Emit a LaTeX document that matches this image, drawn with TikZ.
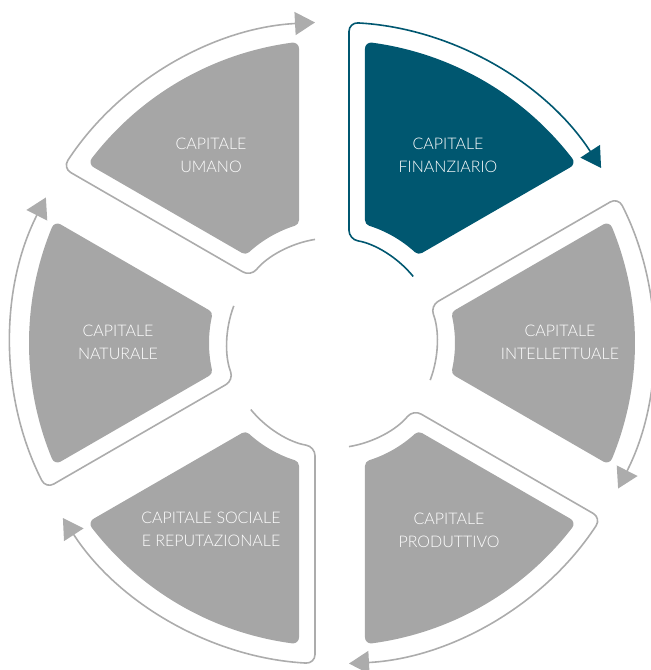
\documentclass[tikz,border=0pt]{standalone}
\usepackage{fontspec}
\setmainfont{Lato}[UprightFont=* Light]
\usetikzlibrary{arrows.meta}
\definecolor{capgray}{RGB}{166,166,166}
\definecolor{linegray}{RGB}{172,172,172}
\definecolor{capblue}{RGB}{0,87,112}
\newcommand\drawsector[2]{%
  \pgfmathsetmacro\aA{#1+30}\pgfmathsetmacro\aB{#1-30}%
  \pgfmathsetmacro\dO{asin(39/297)}\pgfmathsetmacro\dI{asin(39/129)}%
  \pgfmathsetmacro\sA{\aA-\dO}\pgfmathsetmacro\sB{\aB+\dO}%
  \pgfmathsetmacro\iA{\aA-\dI}\pgfmathsetmacro\iB{\aB+\dI}%
  \path[sectorfill=#2] (\sA:297) arc[start angle=\sA, end angle=\sB, radius=297]
    -- (\iB:129) arc[start angle=\iB, end angle=\iA, radius=129] -- cycle;
}
\newcommand\drawcycle[2]{%
  \pgfmathsetmacro\aA{#1+30}\pgfmathsetmacro\aB{#1-30}%
  \pgfmathsetmacro\dI{asin(17/105)}\pgfmathsetmacro\dO{asin(17/321)}%
  \pgfmathsetmacro\sA{\aA-\dO}\pgfmathsetmacro\sB{\aB+\dO}%
  \pgfmathsetmacro\iA{\aA-\dI}\pgfmathsetmacro\iB{\aB+\dI}%
  \draw[cycleline=#2] (\iB:105) arc[start angle=\iB, end angle=\iA, radius=105]
    -- (\sA:321) arc[start angle=\sA, end angle=\sB, radius=321];
}
\begin{document}
\begin{tikzpicture}[x=1pt,y=1pt,
  sectorfill/.style={fill=#1,draw=#1,line width=12pt,line join=round},
  cycleline/.style={draw=#1,line width=1.6pt,rounded corners=9pt,-{Triangle[length=20pt,width=23pt]}},
  lbl/.style={text=white,font=\fontsize{16}{23}\selectfont,align=center}]
\useasboundingbox (-332,-327) rectangle (319,343);
% sectors
\drawsector{120}{capgray}
\drawsector{60}{capblue}
\drawsector{0}{capgray}
\drawsector{-60}{capgray}
\drawsector{-120}{capgray}
\drawsector{180}{capgray}
% cycle outlines
\drawcycle{120}{linegray}
\drawcycle{60}{capblue}
\drawcycle{0}{linegray}
\drawcycle{-60}{linegray}
\drawcycle{-120}{linegray}
\drawcycle{180}{linegray}
% labels
\node[lbl] (umano) at (-121,188) {CAPITALE\\UMANO};
\node[lbl] (finanz) at (116,188) {CAPITALE\\FINANZIARIO};
\node[lbl] (intell) at (228,1) {CAPITALE\\INTELLETTUALE};
\node[lbl] (natur) at (-214,1) {CAPITALE\\NATURALE};
\node[lbl] (produt) at (117,-187) {CAPITALE\\PRODUTTIVO};
\node[lbl] (social) at (-121,-186) {CAPITALE SOCIALE\\E REPUTAZIONALE};
\end{tikzpicture}
\end{document}
